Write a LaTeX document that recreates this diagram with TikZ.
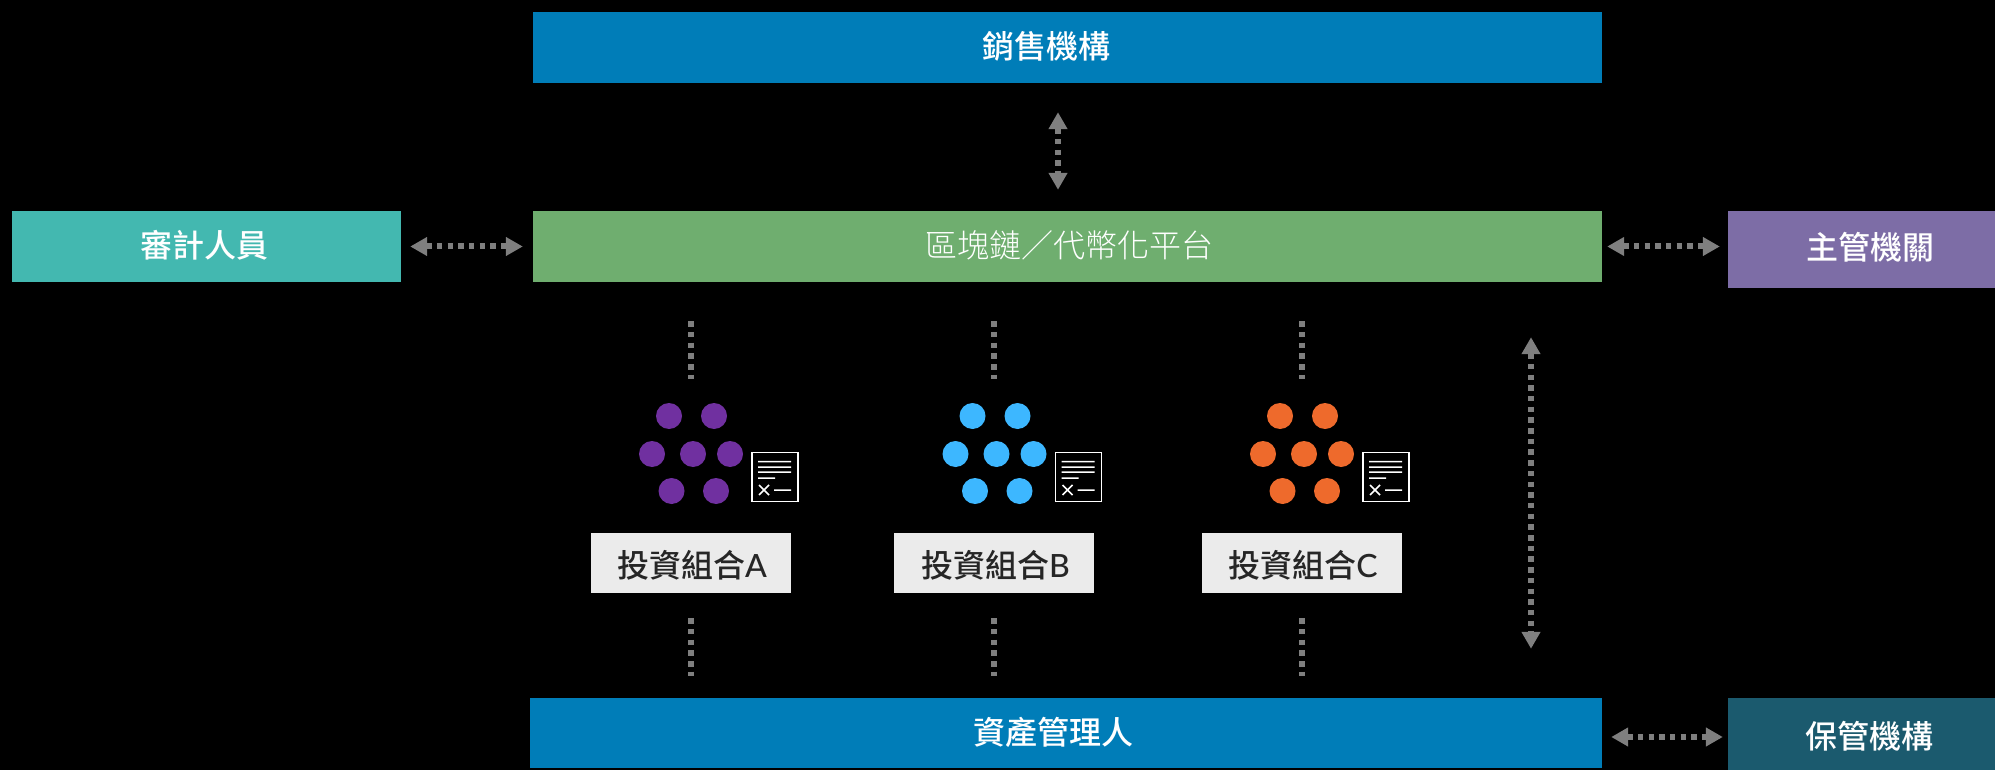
\documentclass[tikz,border=0pt]{standalone}
\usepackage{fontspec}
\setmainfont{Noto Sans CJK TC Medium}
\newfontfamily\thinfont{Noto Sans CJK TC Light}
\newfontfamily\latinfont{Lato Medium}
\usetikzlibrary{arrows.meta}
\definecolor{blueBox}{HTML}{007DB8}
\definecolor{greenBox}{HTML}{6FAE6F}
\definecolor{tealBox}{HTML}{43B8B0}
\definecolor{violetBox}{HTML}{7D6DA6}
\definecolor{darkBox}{HTML}{1B5A6E}
\definecolor{linkGray}{HTML}{7F7F7F}
\definecolor{portA}{HTML}{7030A0}
\definecolor{portB}{HTML}{3DB7FF}
\definecolor{portC}{HTML}{EE6A2C}
\tikzset{
  box/.style={
    inner sep=0pt,
  },
  boxtext/.style={
    text=white,
    font=\fontsize{32}{36}\selectfont,
  },
  portlabel/.style={
    fill=black!8,
    inner sep=0pt,
    minimum width=200pt,
    minimum height=60pt,
  },
  labeltext/.style={
    text=black!85,
    xshift=1.5pt,
    yshift=-2.5pt,
    font=\fontsize{32}{36}\selectfont,
  },
  dot/.style={
    circle,
    inner sep=0pt,
    minimum size=26pt,
  },
  paper/.style={
    draw=white,
    line width=1.6pt,
    inner sep=0pt,
    minimum width=46pt,
    minimum height=49pt,
  },
  dotline/.style={
    draw=linkGray,
    line width=6pt,
    dash pattern=on 5.5pt off 5.2pt,
  },
  biarrow/.style={
    dotline,
    {Triangle[length=17pt,width=18pt,fill=linkGray]}-{Triangle[length=17pt,width=18pt,fill=linkGray]},
  },
}
\begin{document}
\begin{tikzpicture}[x=1pt,y=-1pt]
  \fill[black] (0,0) rectangle (1995,770);
  \useasboundingbox (0,0) rectangle (1995,770);
  \node[box,fill=blueBox,minimum width=1069pt,minimum height=71pt,label={[boxtext,xshift=-21.5pt,yshift=1.5pt]center:銷售機構}] (sales) at (1067.5,47.5) {};
  \node[box,fill=greenBox,minimum width=1069pt,minimum height=71pt,label={[boxtext,xshift=1.5pt,yshift=1pt,font=\fontsize{32}{36}\thinfont]center:區塊鏈／代幣化平台}] (platform) at (1067.5,246.5) {};
  \node[box,fill=tealBox,minimum width=389pt,minimum height=71pt,label={[boxtext,xshift=-2pt,yshift=1pt]center:審計人員}] (auditor) at (206.5,246.5) {};
  \node[box,fill=violetBox,minimum width=267pt,minimum height=77pt,label={[boxtext,xshift=8.5pt,yshift=2.5pt]center:主管機關}] (regulator) at (1861.5,249.5) {};
  \node[box,fill=blueBox,minimum width=1072pt,minimum height=70pt,label={[boxtext,xshift=-13pt,yshift=1pt]center:資產管理人}] (manager) at (1066,733) {};
  \node[box,fill=darkBox,minimum width=267pt,minimum height=72pt,label={[boxtext,xshift=8pt,yshift=-2pt]center:保管機構}] (custodian) at (1861.5,734) {};
  \coordinate (salesLink) at (1058,150);
  \coordinate (tokenLink) at (1531,500);
  \draw[biarrow,shorten <=29pt,shorten >=21pt] (sales.south -| salesLink) -- (platform.north -| salesLink);
  \draw[biarrow,shorten <=9pt,shorten >=10pt] (auditor.east) -- (platform.west);
  \draw[biarrow,shorten <=5pt,shorten >=8pt] (platform.east) -- (regulator.west |- platform.east);
  \draw[biarrow,shorten <=9pt,shorten >=5pt] ([yshift=-4pt]manager.east) -- ([yshift=-3pt]custodian.west);
  \draw[biarrow,shorten <=55pt,shorten >=49pt] (platform.south -| tokenLink) -- (manager.north -| tokenLink);
  \foreach \name/\xoff/\col in {A/0/portA,B/303.5/portB,C/611/portC} {
    \begin{scope}[xshift=\xoff pt]
      \foreach \i/\px/\py in {1/669/416,2/714/416,3/652/454,4/693/454,5/730/454,6/671.5/491,7/716/491} {
        \node[dot,fill=\col] (dot\name\i) at (\px,\py) {};
      }
      \node[paper] (paper\name) at (775,477) {};
      \draw[white,line width=1.5pt]
        (758,461.5) -- (791,461.5)
        (758,467) -- (791,467)
        (758,472) -- (791,472)
        (758,478) -- (775,478)
        (759,485) -- (769,495)
        (769,485) -- (759,495)
        (774,490) -- (791,490);
      \node[portlabel,label={[labeltext]center:投資組合{\latinfont\name}}] (label\name) at (690.5,563) {};
    \end{scope}
    \draw[dotline,shorten <=39pt,shorten >=154pt] (platform.south -| label\name.north) -- (label\name.north);
    \draw[dotline,shorten <=25pt,shorten >=22pt] (label\name.south) -- (manager.north -| label\name.south);
  }
\end{tikzpicture}
\end{document}
